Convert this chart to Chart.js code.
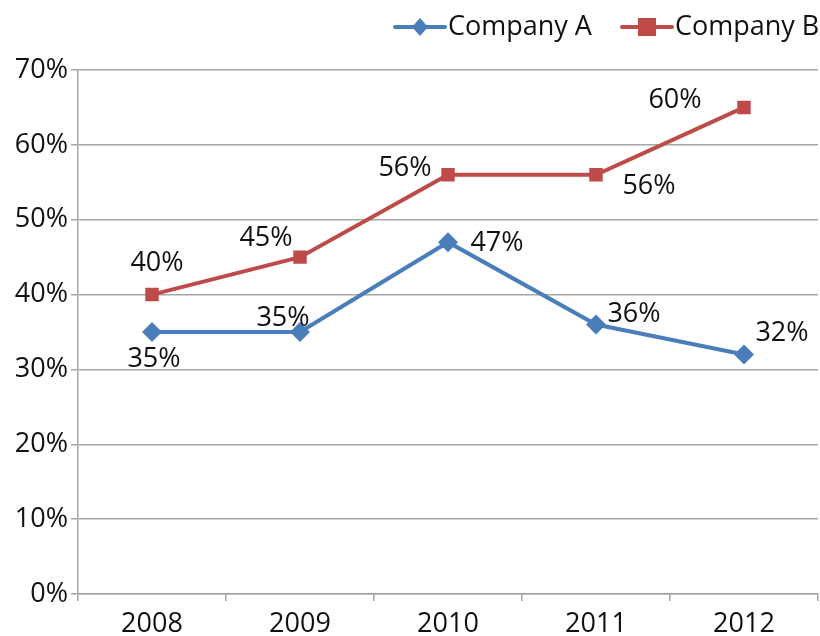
<!DOCTYPE html>
<html>
<head>
<meta charset="utf-8">
<script src="https://cdn.jsdelivr.net/npm/chart.js@4/dist/chart.umd.min.js"></script>
<style>
  html, body { margin: 0; padding: 0; background: #ffffff; }
  #wrap { width: 820px; height: 636px; position: relative; }
</style>
</head>
<body>
<div id="wrap"><canvas id="chartCanvas" width="820" height="636"></canvas></div>
<script>
const years = ["2008", "2009", "2010", "2011", "2012"];
const companyA = [35, 35, 47, 36, 32];
const companyB = [40, 45, 56, 56, 65];
const labelsA = ["35%", "35%", "47%", "36%", "32%"];
const labelsB = ["40%", "45%", "56%", "56%", "60%"];
const yTicks = [0, 10, 20, 30, 40, 50, 60, 70];

const FONT = "'Open Sans', 'Noto Sans', sans-serif";
const FSIZE = 27;
const blue = "#4a7ebb";
const red = "#be4b48";

/* =========================
   Label offsets (px from point)
========================= */
const offsetsA = [[2, 27], [-17, -14], [49, 1], [38, -10], [38, -21]];
const offsetsB = [[5, -31], [-34, -19], [-43, -6], [53, 12], [-69, -7]];

const pointLabelPlugin = {
  id: "pointLabels",
  afterDatasetsDraw: (chart) => {
    const ctx = chart.ctx;
    ctx.save();
    ctx.font = FSIZE + "px " + FONT;
    ctx.fillStyle = "#111111";
    ctx.textAlign = "center";
    ctx.textBaseline = "middle";
    const sets = [[labelsA, offsetsA], [labelsB, offsetsB]];
    sets.forEach(([texts, offs], di) => {
      chart.getDatasetMeta(di).data.forEach((pt, i) => {
        ctx.fillText(texts[i], pt.x + offs[i][0], pt.y + offs[i][1]);
      });
    });
    ctx.restore();
  }
};

/* =========================
   Legend: line with marker
========================= */
const legendPlugin = {
  id: "lineLegend",
  afterDraw: (chart) => {
    const ctx = chart.ctx;
    ctx.save();
    const y = 27;
    const items = [
      { x: 395, color: blue, text: "Company A", marker: "diamond" },
      { x: 622, color: red, text: "Company B", marker: "square" }
    ];
    items.forEach(it => {
      ctx.strokeStyle = it.color;
      ctx.lineWidth = 4;
      ctx.lineCap = "round";
      ctx.beginPath();
      ctx.moveTo(it.x, y);
      ctx.lineTo(it.x + 50, y);
      ctx.stroke();
      ctx.fillStyle = it.color;
      const cx = it.x + 25;
      if (it.marker === "diamond") {
        ctx.beginPath();
        ctx.moveTo(cx, y - 9);
        ctx.lineTo(cx + 8, y);
        ctx.lineTo(cx, y + 9);
        ctx.lineTo(cx - 8, y);
        ctx.closePath();
        ctx.fill();
      } else {
        ctx.fillRect(cx - 9, y - 9, 18, 18);
      }
      ctx.fillStyle = "#111111";
      ctx.font = FSIZE + "px " + FONT;
      ctx.textAlign = "left";
      ctx.textBaseline = "middle";
      ctx.fillText(it.text, it.x + 53, y);
    });
    ctx.restore();
  }
};

const ctx = document.getElementById("chartCanvas").getContext("2d");
new Chart(ctx, {
  type: "line",
  data: {
    labels: years,
    datasets: [
      {
        label: "Company A",
        data: companyA,
        borderColor: blue,
        backgroundColor: blue,
        borderWidth: 4,
        pointStyle: "rectRot",
        pointRadius: 10,
        pointBorderWidth: 0,
        tension: 0
      },
      {
        label: "Company B",
        data: companyB,
        borderColor: red,
        backgroundColor: red,
        borderWidth: 4,
        pointStyle: "rect",
        pointRadius: 9.5,
        pointBorderWidth: 0,
        tension: 0
      }
    ]
  },
  options: {
    responsive: false,
    animation: false,
    layout: { autoPadding: false, padding: { top: 70, right: 2, left: 0, bottom: 0 } },
    plugins: {
      legend: { display: false },
      tooltip: { enabled: false }
    },
    scales: {
      x: {
        offset: true,
        afterFit: (scale) => { scale.height = 42; },
        grid: {
          offset: true,
          drawOnChartArea: false,
          drawTicks: true,
          tickLength: 7,
          color: "#a6a6a6",
          lineWidth: 1.5
        },
        border: { color: "#a6a6a6", width: 1.5 },
        ticks: {
          color: "#111111",
          font: { family: FONT, size: FSIZE },
          padding: 7,
          maxRotation: 0
        }
      },
      y: {
        min: 0,
        max: 70,
        afterFit: (scale) => { scale.width = 78; },
        afterBuildTicks: (scale) => { scale.ticks = yTicks.map(v => ({ value: v })); },
        grid: {
          color: "#a6a6a6",
          lineWidth: 1.5,
          drawTicks: true,
          tickLength: 7
        },
        border: { color: "#a6a6a6", width: 1.5 },
        ticks: {
          color: "#111111",
          font: { family: FONT, size: FSIZE },
          padding: 3,
          callback: v => v + "%"
        }
      }
    }
  },
  plugins: [pointLabelPlugin, legendPlugin]
});
</script>
</body>
</html>
